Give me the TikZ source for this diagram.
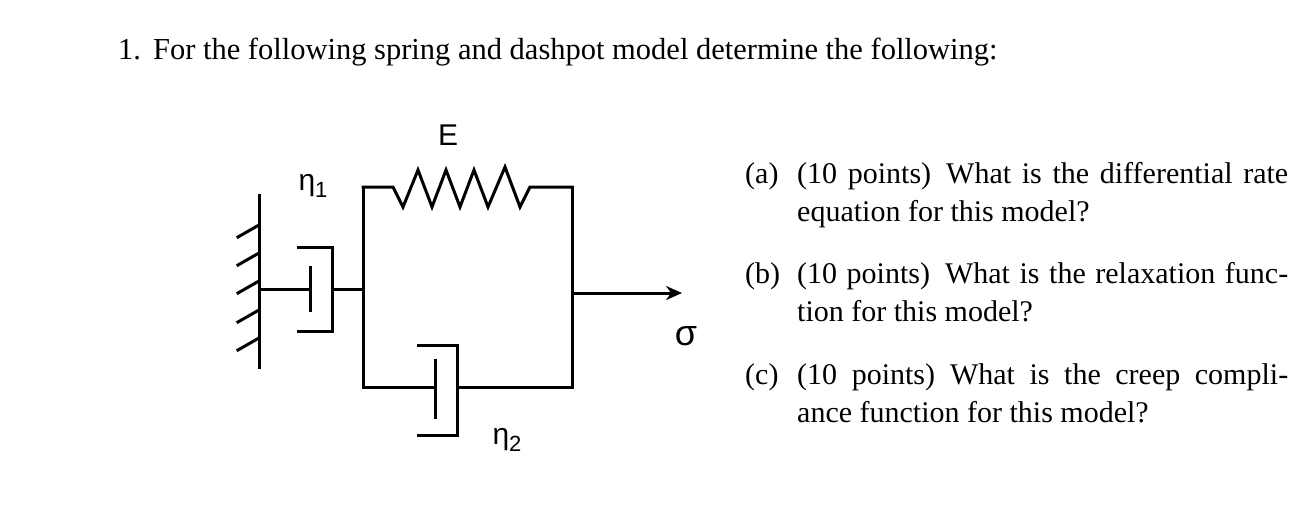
\documentclass[tikz,border=0pt]{standalone}
\usepackage{fontspec}
\setmainfont{Liberation Serif}
\newfontfamily\labfont{Liberation Sans}
\usetikzlibrary{arrows.meta}

\tikzset{
  wire/.style={black, line width=3pt, line cap=rect},
  lab/.style={font=\labfont\fontsize{30}{30}\selectfont, inner sep=0pt},
  tag/.style={anchor=north west, inner sep=0pt, font=\fontsize{30}{38}\selectfont},
  item/.style={anchor=north west, text width=491pt, align=justify, inner sep=0pt,
    font=\fontsize{30}{38}\selectfont}
}

\begin{document}
\begin{tikzpicture}[x=1pt,y=-1pt]
       \useasboundingbox (0,0) rectangle (1316,504);
       \node[anchor=base west, inner sep=0pt, font=\fontsize{30.5}{30}\selectfont] (title) at (118,59)
         {1.\hspace{12pt}For the following spring and dashpot model determine the following:};

       % wall
       \coordinate (wt) at (259,195);
       \coordinate (wb) at (259,367);
       \draw[wire] (wt) -- (wb);
       \foreach \y in {232,260,288,317,345}
         \draw[wire] (259,\y-7) -- (238,\y+5);

       % dashpot 1
       \coordinate (w) at (259,289);
       \coordinate (p1) at (310,289);
       \coordinate (c1) at (332,289);
       \coordinate (l) at (363,289);
       \draw[wire] (w) -- (p1);
       \draw[wire] (310,267) -- (310,310);
       \draw[wire] (298,247) -- (332,247) -- (332,331) -- (298,331);
       \draw[wire] (c1) -- (l);

       % box
       \coordinate (tl) at (363,187);
       \coordinate (bl) at (363,387);
       \coordinate (tr) at (572,187);
       \coordinate (br) at (572,387);
       \draw[wire] (tl) -- (bl);
       \draw[wire] (tr) -- (br);

       % spring
       \draw[wire, line join=miter] (tl) -- (393,187) -- (403,207) -- (418,170) -- (432,207) -- (446,170)
         -- (460,207) -- (474,170) -- (488,207) -- (505,167) -- (520,207) -- (530,187) -- (tr);
       \node[lab] (E) at (448,135) {E};

       % dashpot 2
       \draw[wire] (bl) -- (435,387);
       \draw[wire] (435,360) -- (435,417);
       \draw[wire] (418,345) -- (457,345) -- (457,435) -- (418,435);
       \draw[wire] (457,387) -- (br);

       % load
       \coordinate (r) at (572,293);
       \coordinate (tip) at (682,293);
       \draw[wire, -{Stealth[length=16pt,width=14pt]}] (r) -- (tip);

       \node[lab, font=\labfont\fontsize{36}{36}\selectfont] (sig) at (686,336) {σ};
       \node[lab] (eta1) at (313,186) {η\raisebox{-7pt}{\fontsize{22}{22}\selectfont 1}};
       \node[lab] (eta2) at (507,440) {η\raisebox{-7pt}{\fontsize{22}{22}\selectfont 2}};

       % questions
       \node[tag] (ta) at (745,162) {(a)};
       \node[item] (qa) at (797,162) {(10 points)\enspace What is the differential rate\linebreak equation for this model?};
       \node[tag] (tb) at (745,262) {(b)};
       \node[item] (qb) at (797,262) {(10 points)\enspace What is the relaxation func-\linebreak tion for this model?};
       \node[tag] (tc) at (745,363) {(c)};
       \node[item] (qc) at (797,363) {(10 points)\enspace What is the creep compli-\linebreak ance function for this model?};
\end{tikzpicture}
\end{document}
